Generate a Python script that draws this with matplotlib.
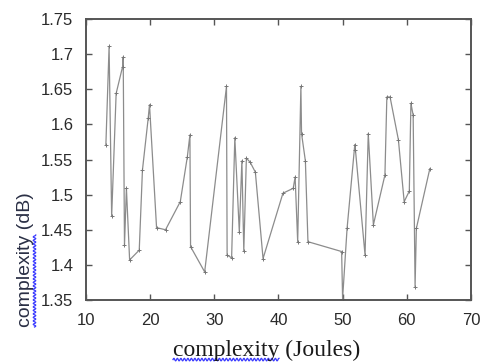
import numpy as np
import matplotlib
matplotlib.use("Agg")
import matplotlib.pyplot as plt
from matplotlib.lines import Line2D

# values
energy = [13.1, 13.6, 14.0, 14.7, 15.7, 15.8, 16.0, 16.3, 16.8, 18.3,
          18.8, 19.7, 19.9, 21.0, 22.4, 24.7, 25.8, 26.2, 26.3, 28.5,
          31.9, 32.0, 32.7, 33.2, 33.9, 34.3, 34.6, 35.0, 35.6, 36.4,
          37.6, 40.7, 42.3, 42.6, 43.0, 43.5, 43.6, 44.2, 44.6, 49.85,
          50.0, 50.7, 51.9, 52.0, 53.5, 54.0, 54.8, 56.6, 56.9, 57.4,
          58.7, 59.6, 60.4, 60.65, 61.0, 61.3, 61.5, 63.6]
complexity = [1.571, 1.711, 1.469, 1.644, 1.682, 1.696, 1.428, 1.509, 1.407, 1.421,
              1.535, 1.609, 1.628, 1.453, 1.450, 1.490, 1.554, 1.585, 1.426, 1.390,
              1.654, 1.414, 1.410, 1.581, 1.447, 1.548, 1.420, 1.552, 1.546, 1.532,
              1.409, 1.502, 1.509, 1.525, 1.433, 1.654, 1.587, 1.548, 1.433, 1.419,
              1.352, 1.452, 1.571, 1.564, 1.414, 1.587, 1.457, 1.528, 1.639, 1.639,
              1.578, 1.490, 1.505, 1.630, 1.613, 1.369, 1.452, 1.537]

xticks = [10, 20, 30, 40, 50, 60, 70]
yticks = [1.35, 1.4, 1.45, 1.5, 1.55, 1.6, 1.65, 1.7, 1.75]
ytick_labels = ["1.35", "1.4", "1.45", "1.5", "1.55", "1.6", "1.65", "1.7", "1.75"]

fig = plt.figure(figsize=(4.9, 3.64), dpi=100)
ax = fig.add_axes([0.1755, 0.1758, 0.7855, 0.772])

ax.plot(energy, complexity, color='#8c8c8c', linewidth=0.9,
        marker='+', markersize=3, markeredgewidth=0.7, markeredgecolor='#777777')

ax.set_xlim(10, 70)
ax.set_ylim(1.35, 1.75)
ax.set_xticks(xticks)
ax.set_yticks(yticks)
ax.set_yticklabels(ytick_labels)

for s in ax.spines.values():
    s.set_color('#555555')
    s.set_linewidth(1.4)

ax.tick_params(direction='in', length=4, width=1, color='#555555',
               top=True, right=True, labelsize=12, labelcolor='#2a2a2a', pad=9)
for lab in ax.get_xticklabels() + ax.get_yticklabels():
    lab.set_family('Liberation Sans')

# axis titles placed as in the reference, with a spell-check squiggle
ylab = fig.text(25 / 490, 37 / 364, "complexity (dB)", rotation=90,
                ha='center', va='bottom', fontsize=14,
                family='Liberation Sans', color='#2a2f45')
xlab = fig.text(173 / 490, 14 / 364, "complexity (Joules)",
                ha='left', va='center', fontsize=17,
                family='Liberation Serif', color='#1a1a1a')

fig.canvas.draw()
renderer = fig.canvas.get_renderer()


def word_width(text_obj, word):
    t = fig.text(0, 0, word, fontsize=text_obj.get_fontsize(),
                 family=text_obj.get_family())
    w = t.get_window_extent(renderer).width
    t.remove()
    return w


def squiggle(p0, p1):
    # wavy blue underline in pixel coordinates
    t = np.arange(0, p1 - p0, 0.5)
    wave = 1.3 * np.sin(2 * np.pi * t / 3.5)
    return t + p0, wave


inv = fig.transFigure.inverted()

bx = xlab.get_window_extent(renderer)
wx = word_width(xlab, "complexity")
xs, wv = squiggle(bx.x0, bx.x0 + wx)
pts = inv.transform(np.column_stack([xs, bx.y0 + 1 + wv]))
fig.add_artist(Line2D(pts[:, 0], pts[:, 1], color='#3a3aff', linewidth=0.9,
                      transform=fig.transFigure))

by = ylab.get_window_extent(renderer)
wy = word_width(ylab, "complexity")
ys, wv = squiggle(by.y0, by.y0 + wy)
pts = inv.transform(np.column_stack([by.x1 + 1 + wv, ys]))
fig.add_artist(Line2D(pts[:, 0], pts[:, 1], color='#3a3aff', linewidth=0.9,
                      transform=fig.transFigure))

fig.savefig("out.png", dpi=100)
